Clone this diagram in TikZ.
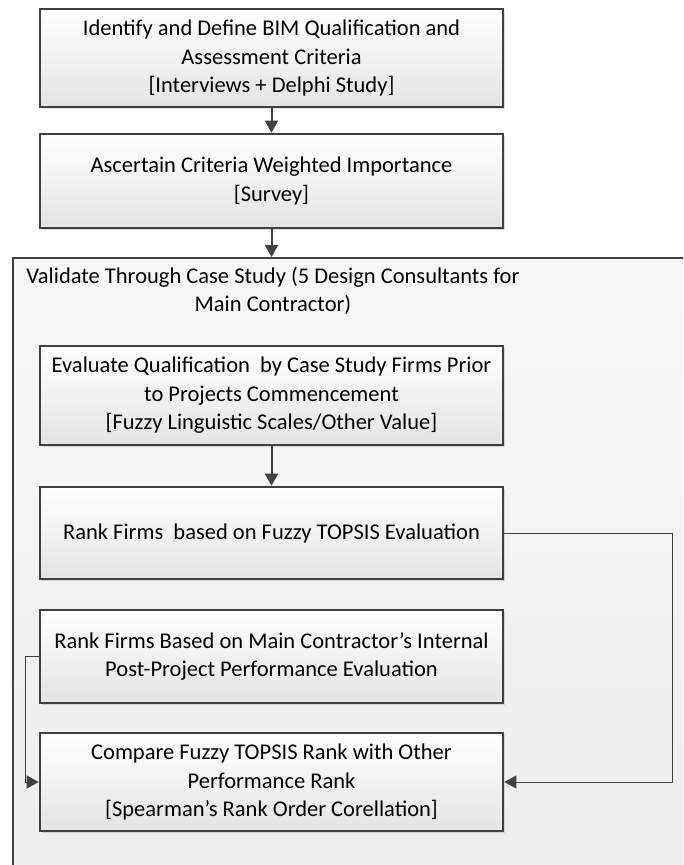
\documentclass[tikz,border=0pt]{standalone}
\usepackage{fontspec}
\setmainfont{Carlito}
\usepackage{tikz}
\usetikzlibrary{arrows.meta,shadows,positioning}
\definecolor{boxline}{HTML}{404040}
\definecolor{boxfill}{HTML}{E4E4E4}
\definecolor{casefill}{HTML}{EDEDED}
\tikzset{
	stagebox/.style={draw=boxline, line width=2.7pt, top color=white, bottom color=boxfill,
		minimum width=463pt, align=center, inner sep=0pt,
		drop shadow={shadow xshift=2pt, shadow yshift=-2pt, opacity=0.25},
		font=\fontsize{22.5}{28.5}\selectfont},
	flow/.style={draw=boxline, line width=2pt, -{Triangle[width=13pt,length=12pt]}},
	link/.style={draw=boxline, line width=1pt, -{Triangle[width=13pt,length=12pt]}},
}
\begin{document}
\begin{tikzpicture}
	\useasboundingbox (0,0) rectangle (683pt,-865pt);
	\clip (0,0) rectangle (683pt,-865pt);
	% case study frame
	\node[draw=boxline, line width=2pt, top color=white!97!black, bottom color=casefill,
		minimum width=700pt, minimum height=640pt, anchor=north west, inner sep=0pt]
		(case) at (12pt,-257pt) {};
	\node[font=\fontsize{22.5}{28.5}\selectfont, align=center] (casetitle) at (273pt,-291pt)
		{Validate Through Case Study (5 Design Consultants for\\Main Contractor)};
	% stage boxes
	\node[stagebox, minimum height=98pt] (define) at (271.5pt,-58pt)
		{Identify and Define BIM Qualification and\\Assessment Criteria\\{}[Interviews + Delphi Study]};
	\node[stagebox, minimum height=94pt] (survey) at (271.5pt,-181pt)
		{Ascertain Criteria Weighted Importance\\{}[Survey]};
	\node[stagebox, minimum height=99pt] (evaluate) at (271.5pt,-395.5pt)
		{Evaluate Qualification\ \ by Case Study Firms Prior\\to Projects Commencement\\{}[Fuzzy Linguistic Scales/Other Value]};
	\node[stagebox, minimum height=92pt] (rankfuzzy) at (271.5pt,-533pt)
		{Rank Firms\ \ based on Fuzzy TOPSIS Evaluation};
	\node[stagebox, minimum height=93pt] (rankmain) at (271.5pt,-656.5pt)
		{Rank Firms Based on Main Contractor’s Internal\\Post-Project Performance Evaluation};
	\node[stagebox, minimum height=98pt] (compare) at (271.5pt,-782pt)
		{Compare Fuzzy TOPSIS Rank with Other\\Performance Rank\\{}[Spearman’s Rank Order Corellation]};
	% side lanes
	\coordinate (leftlane) at (25pt,0);
	\coordinate (rightlane) at (672pt,0);
	% connectors
	\draw[flow] (define) -- (survey);
	\draw[flow] (survey.south) -- (survey.south |- case.north);
	\draw[flow] (evaluate) -- (rankfuzzy);
	\draw[link] (rankfuzzy.east) -- (rankfuzzy.east -| rightlane) |- (compare.east);
	\draw[link] (rankmain.west) -- (rankmain.west -| leftlane) |- (compare.west);
\end{tikzpicture}
\end{document}
